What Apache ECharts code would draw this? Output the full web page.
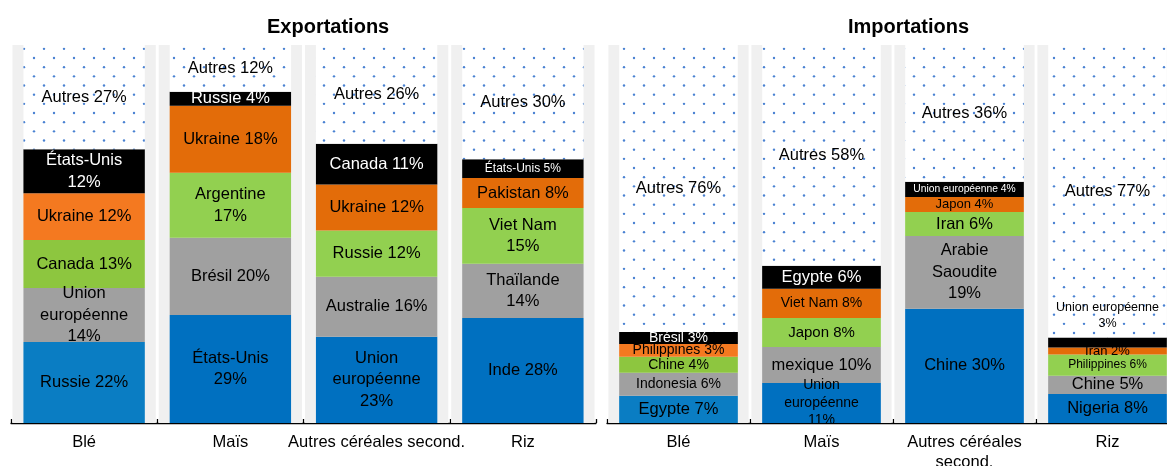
<!DOCTYPE html>
<html>
<head>
<meta charset="utf-8">
<script src="https://cdn.jsdelivr.net/npm/echarts@6/dist/echarts.min.js"></script>
<style>
html, body { margin: 0; padding: 0; background: #fff; }
#chart { width: 1167px; height: 466px; }
</style>
</head>
<body>
<div id="chart"></div>
<script>
// categories
var catsExp = ['Blé', 'Maïs', 'Autres céréales second.', 'Riz'];
var catsImp = ['Blé', 'Maïs', 'Autres céréales\nsecond.', 'Riz'];

// parts (%) par couche, du bas vers le haut : [Blé, Maïs, Autres céréales, Riz]
var exp0 = [21.4, 28.6, 22.8, 27.8];
var exp1 = [14.3, 20.4, 15.9, 14.3];
var exp2 = [12.7, 17.2, 12.2, 14.8];
var exp3 = [12.4, 17.7, 12.2, 7.9];
var exp4 = [11.6, 3.7, 10.8, 5.0];
var exp5 = [27.6, 12.4, 26.1, 30.2];

var expLab0 = ['Russie 22%', 'États-Unis\n29%', 'Union\neuropéenne\n23%', 'Inde 28%'];
var expLab1 = ['Union\neuropéenne\n14%', 'Brésil 20%', 'Australie 16%', 'Thaïlande\n14%'];
var expLab2 = ['Canada 13%', 'Argentine\n17%', 'Russie 12%', 'Viet Nam\n15%'];
var expLab3 = ['Ukraine 12%', 'Ukraine 18%', 'Ukraine 12%', 'Pakistan 8%'];
var expLab4 = ['États-Unis\n12%', 'Russie 4%', 'Canada 11%', 'États-Unis 5%'];
var expLab5 = ['Autres 27%', 'Autres 12%', 'Autres 26%', 'Autres 30%'];

var imp0 = [7.2, 10.6, 30.2, 7.7];
var imp1 = [6.1, 9.5, 19.3, 4.8];
var imp2 = [4.2, 7.7, 6.3, 5.6];
var imp3 = [3.4, 7.7, 4.0, 1.9];
var imp4 = [3.2, 6.1, 4.0, 2.6];
var imp5 = [75.9, 58.4, 36.2, 77.4];

var impLab0 = ['Egypte 7%', 'Union\neuropéenne\n11%', 'Chine 30%', 'Nigeria 8%'];
var impLab1 = ['Indonesia 6%', 'mexique 10%', 'Arabie\nSaoudite\n19%', 'Chine 5%'];
var impLab2 = ['Chine 4%', 'Japon 8%', 'Iran 6%', 'Philippines 6%'];
var impLab3 = ['Philippines 3%', 'Viet Nam 8%', 'Japon 4%', 'Iran 2%'];
var impLab4 = ['Brésil 3%', 'Egypte 6%', 'Union européenne 4%', 'Union européenne\n3%'];
var impLab5 = ['Autres 76%', 'Autres 58%', 'Autres 36%', 'Autres 77%'];

var FONT = 'Arial, "Liberation Sans", sans-serif';
var BASE_FS = 16.5;

// couleurs par couche (la colonne Blé a des teintes un peu plus vives)
var layerColors = ['#0070c0', '#a0a0a0', '#92d050', '#e36c09', '#000000'];
var bleColors = ['#0a7dc3', '#a0a0a0', '#8dc63f', '#f47920', '#000000'];

// tailles de police particulières : 'panneau-couche-categorie'
var fontOverride = {
    'e-4-3': 12,
    'i-0-1': 14,
    'i-1-0': 14, 'i-2-0': 14, 'i-3-0': 14, 'i-4-0': 14,
    'i-2-1': 15, 'i-3-1': 14,
    'i-3-2': 13, 'i-4-2': 10.3,
    'i-2-3': 12, 'i-3-3': 13, 'i-4-3': 12.5
};
// étiquette déplacée au-dessus de sa barre (avec trait de rappel)
var movedLabel = 'i-4-3';

// motif pointillé pour "Autres"
function dotPattern() {
    var c = document.createElement('canvas');
    c.width = 20;
    c.height = 55;
    var ctx = c.getContext('2d');
    ctx.fillStyle = '#ffffff';
    ctx.fillRect(0, 0, 20, 55);
    ctx.fillStyle = '#4a82d2';
    for (var r = 0; r < 6; r++) {
        var y = 3 + r * 55 / 6;
        var x = r % 2 === 0 ? 14 : 4;
        ctx.beginPath();
        ctx.arc(x, y, 1.2, 0, Math.PI * 2);
        ctx.fill();
    }
    return c;
}
var autresFill = { image: dotPattern(), repeat: 'repeat' };

function buildLayer(panel, layer, values, labels, xIdx, yIdx) {
    var hasMoved = false;
    var data = values.map(function (v, i) {
        var key = panel + '-' + layer + '-' + i;
        var fs = fontOverride[key] || BASE_FS;
        var color = layer === 5 ? autresFill : (i === 0 ? bleColors[layer] : layerColors[layer]);
        var lab = {
            fontSize: fs,
            lineHeight: fs < 16 ? fs * 1.25 : 21.5
        };
        if (key === movedLabel) {
            lab.color = '#000000';
            hasMoved = true;
        }
        return {
            value: v,
            itemStyle: { color: color },
            label: lab
        };
    });
    return {
        type: 'bar',
        name: panel + layer,
        xAxisIndex: xIdx,
        yAxisIndex: yIdx,
        stack: 'tot' + panel,
        barWidth: '83%',
        z: 3,
        data: data,
        label: {
            show: true,
            position: 'inside',
            color: layer === 4 ? '#ffffff' : '#000000',
            fontFamily: FONT,
            formatter: function (p) { return labels[p.dataIndex]; }
        },
        labelLine: {
            show: hasMoved,
            lineStyle: { color: '#808080', width: 1 }
        },
        labelLayout: function (p) {
            if (panel + '-' + layer + '-' + p.dataIndex === movedLabel) {
                return { dy: -27 };
            }
            return {};
        }
    };
}

function bgSeries(xIdx, yIdx) {
    return {
        type: 'bar',
        xAxisIndex: xIdx,
        yAxisIndex: yIdx,
        barWidth: '98%',
        silent: true,
        z: 1,
        itemStyle: { color: '#f0f0f0' },
        data: [100, 100, 100, 100]
    };
}

var chart = echarts.init(document.getElementById('chart'));

var xAxisShown = {
    position: 'bottom',
    axisLine: { show: true, lineStyle: { color: '#000', width: 1.3 } },
    axisTick: { show: true, inside: true, length: 4, lineStyle: { color: '#000', width: 1.3 } },
    axisLabel: { color: '#000', fontSize: BASE_FS, fontFamily: FONT, margin: 9, lineHeight: 20, interval: 0 },
    splitLine: { show: false }
};

var option = {
    animation: false,
    title: [
        { text: 'Exportations', left: 262, top: 12, textStyle: { fontSize: 20, fontWeight: 'bold', color: '#000', fontFamily: FONT } },
        { text: 'Importations', left: 843, top: 12, textStyle: { fontSize: 20, fontWeight: 'bold', color: '#000', fontFamily: FONT } }
    ],
    grid: [
        { left: 11, top: 45, width: 585, height: 378, outerBoundsMode: 'none' },
        { left: 607, top: 45, width: 572, height: 378, outerBoundsMode: 'none' }
    ],
    xAxis: [
        { type: 'category', gridIndex: 0, data: catsExp, show: false, position: 'top' },
        Object.assign({ type: 'category', gridIndex: 0, data: catsExp }, xAxisShown),
        { type: 'category', gridIndex: 1, data: catsImp, show: false, position: 'top' },
        Object.assign({ type: 'category', gridIndex: 1, data: catsImp }, xAxisShown)
    ],
    yAxis: [
        { type: 'value', gridIndex: 0, min: 0, max: 100, show: false },
        { type: 'value', gridIndex: 1, min: 0, max: 100, show: false }
    ],
    series: [
        bgSeries(0, 0),
        bgSeries(2, 1),
        buildLayer('e', 0, exp0, expLab0, 1, 0),
        buildLayer('e', 1, exp1, expLab1, 1, 0),
        buildLayer('e', 2, exp2, expLab2, 1, 0),
        buildLayer('e', 3, exp3, expLab3, 1, 0),
        buildLayer('e', 4, exp4, expLab4, 1, 0),
        buildLayer('e', 5, exp5, expLab5, 1, 0),
        buildLayer('i', 0, imp0, impLab0, 3, 1),
        buildLayer('i', 1, imp1, impLab1, 3, 1),
        buildLayer('i', 2, imp2, impLab2, 3, 1),
        buildLayer('i', 3, imp3, impLab3, 3, 1),
        buildLayer('i', 4, imp4, impLab4, 3, 1),
        buildLayer('i', 5, imp5, impLab5, 3, 1)
    ]
};
chart.setOption(option);
</script>
</body>
</html>
